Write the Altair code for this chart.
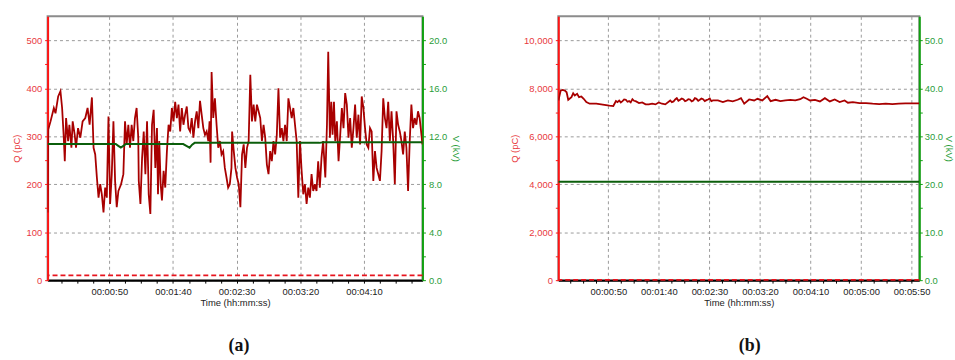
import altair as alt
import pandas as pd

# ---------------- panel (a): ~5 min record ----------------
A_Q_T = [
    1.5, 2.0, 3.8, 6.4, 7.7, 9.8, 11.6, 12.9, 14.2, 15.0, 16.0, 17.6, 18.6, 20.2, 21.2, 22.8, 23.8,
    25.4, 27.2, 29.0, 31.1, 32.9, 34.5, 36.3, 37.6, 38.9, 40.2, 41.5, 42.8, 44.1, 45.4, 46.7, 48.0,
    49.3, 50.6, 51.9, 53.2, 54.5, 55.8, 57.1, 59.2, 61.0, 62.3, 63.6, 64.9, 66.2, 67.5, 68.8, 70.1,
    71.4, 72.7,
    73.1, 74.4, 75.7, 77.0, 78.3, 79.6, 80.9, 82.2, 83.5, 84.8, 86.1, 87.4, 88.2, 89.2, 90.3, 91.3,
    92.6, 93.9, 95.2, 96.5, 97.8, 99.1, 100.4, 101.7, 103.0, 104.3, 105.6, 106.9, 108.2, 109.5,
    110.8, 112.1, 113.4, 114.7, 116.0, 117.3, 118.6, 119.9, 121.2, 122.5, 123.8, 125.1, 126.4,
    127.7, 128.7, 129.5, 130.3, 131.6, 132.9, 134.2, 135.5, 136.8, 138.1, 139.4, 140.7, 142.0,
    143.3, 144.6, 145.9,
    146.4, 147.7, 149.0, 150.3, 151.6, 152.9, 154.2, 155.5, 156.8, 158.1, 159.4, 160.7, 162.0,
    163.3, 164.6, 165.9, 167.2, 168.5, 169.8, 171.1, 172.4, 173.7, 175.0, 176.3, 177.6, 178.9,
    180.2, 181.5, 182.8, 184.1, 185.4, 186.7, 188.0, 189.3, 190.6, 191.9, 193.2, 194.5, 195.8,
    197.1, 198.4, 199.7, 201.0, 202.3, 203.6, 204.9, 206.2, 207.5, 208.8, 210.1, 211.4, 212.7,
    214.0, 215.3, 216.6, 217.9,
    219.6, 220.9, 221.9, 223.2, 224.3, 225.3, 226.4, 227.4, 228.7, 230.0, 231.3, 232.6, 233.9,
    235.2, 236.5, 237.8, 239.1, 240.4, 241.7, 243.0, 244.3, 245.6, 246.9, 248.2, 249.5, 250.8,
    252.1, 253.4, 254.7, 256.0, 257.3, 258.6, 259.9, 261.2, 262.5, 263.8, 265.1, 266.4, 267.7,
    269.0, 270.3, 271.6, 272.9, 274.2, 275.5, 276.8, 278.1, 279.4, 280.7, 282.0, 283.3, 284.6,
    285.9, 287.2, 288.5, 289.8, 291.1, 292.4, 293.7, 295.9,
]
A_Q = [
    141, 314, 331, 359, 348, 383, 394, 359, 297, 248, 338, 290, 324, 276, 331, 303, 276,
    317, 297, 331, 338, 359, 324, 381, 276, 262, 214, 172, 200, 179, 141, 193, 172,
    341, 159, 221, 331, 207, 152, 186, 200, 221, 331, 283, 324, 276, 324, 290, 338,
    359, 297,
    207, 159, 255, 310, 221, 331, 179, 138, 324, 355, 234, 317, 179, 290, 200, 166,
    228, 193, 269, 324, 310, 359, 331, 372, 338, 366, 310, 359, 324, 345,
    362, 317, 310, 338, 297, 331, 352, 317, 374, 345, 317, 303, 310,
    290, 331, 245, 434, 338, 379, 324, 276, 290, 262, 269, 234, 214,
    193, 200, 234,
    310, 269, 234, 214, 200, 152, 262, 283, 234, 276, 290, 428, 331,
    366, 331, 366, 352, 338, 290, 324, 297, 241, 221, 269, 248, 290,
    262, 303, 400, 297, 317, 290, 324, 290, 379, 359, 338, 359, 324,
    290, 172, 290, 228, 179, 200, 159, 193, 172, 221, 186, 200, 186,
    248, 193, 255, 290,
    214, 324, 476, 297, 372, 303, 372, 290, 331, 248, 303, 359, 317,
    390, 366, 297, 338, 276, 317, 366, 297, 345, 283, 383, 359, 317,
    283, 276, 317, 310, 207, 269, 234, 221, 207, 269, 379, 338, 317,
    372, 290, 352, 290, 200, 352, 324, 310, 290, 262, 310, 276, 186,
    290, 366, 317, 338, 324, 352, 338, 283,
]
A_V_T = [1.5, 55.0, 57.0, 59.0, 61.0, 63.0, 108.0, 110.5, 113.0, 115.0, 117.0, 215.0, 218.0, 295.9]
A_V = [11.35, 11.35, 11.2, 11.05, 11.2, 11.35, 11.35, 11.2, 11.05, 11.3, 11.45, 11.45, 11.5, 11.5]

# ---------------- panel (b): ~6 min record ----------------
B_Q_T = [
    0.6, 2.8, 4.8, 7.0, 8.7, 10.3, 13.5, 15.2, 16.8, 19.1, 21.0, 23.3, 25.6, 28.2, 31.5,
    38.0, 44.5, 51.0, 54.9, 57.5, 59.1, 60.7, 62.3, 64.0, 65.6, 67.3, 68.9, 70.5, 72.1, 73.8,
    75.4, 77.0, 80.3, 83.5, 86.8, 90.0,
    93.3, 96.6, 99.8, 103.1, 106.3, 111.2, 112.8, 114.5, 116.1, 117.7, 119.3, 121.0, 122.6,
    124.2, 125.9, 127.5, 129.1, 130.7, 132.4, 134.0, 135.6, 137.2, 138.9, 140.5, 142.1, 143.7,
    145.4, 147.0, 148.6, 150.3, 151.9, 153.5,
    158.4, 163.3, 168.2, 173.0, 177.9, 181.2, 184.4, 189.3, 194.2, 197.5, 202.3, 207.2, 210.5,
    215.4, 220.2, 225.1, 230.0, 234.9, 239.8, 243.0, 246.3, 249.5, 254.4, 259.3, 264.2, 269.1,
    273.9, 278.8, 283.7, 287.0, 291.9, 298.4, 304.9, 311.4, 317.9, 324.4, 330.9, 337.4, 343.9,
    350.4, 357.6,
]
B_Q = [
    7493, 7904, 7932, 7904, 7836, 7521, 7630, 7795, 7700, 7767, 7630, 7658, 7562, 7425, 7357,
    7357, 7316, 7275, 7261, 7466, 7425, 7493, 7411, 7466, 7534, 7521, 7439, 7466, 7411, 7548,
    7480, 7466, 7384, 7411, 7329, 7329,
    7357, 7329, 7411, 7357, 7329, 7493, 7425, 7452, 7534, 7589, 7480, 7521, 7575,
    7548, 7466, 7493, 7548, 7534, 7452, 7493, 7589, 7562, 7480, 7521, 7575, 7548,
    7466, 7507, 7534, 7575, 7466, 7493,
    7493, 7425, 7493, 7452, 7521, 7589, 7357, 7534, 7493, 7562, 7493, 7671, 7466,
    7521, 7466, 7493, 7521, 7493, 7548, 7630, 7562, 7493, 7521, 7452, 7589, 7452,
    7534, 7425, 7493, 7398, 7425, 7384, 7384, 7357, 7343, 7357, 7343, 7357, 7370,
    7370, 7370,
]
B_V_T = [0.5, 357.6]
B_V = [20.5, 20.5]

THRESHOLD_Q = 10  # pC, dashed level line

RED_LINE = "#a80000"
GREEN_LINE = "#0b5e0b"
AXIS_RED = "#ff1414"
LABEL_RED = "#e8383d"
AXIS_GREEN = "#10a010"
LABEL_GREEN = "#2a9d3a"
GRID = "#9a9a9a"
FONT = "Liberation Sans"
FS = 9.5


def time_axis(end):
    minor = [12.5 * i for i in range(1, int(end / 12.5) + 1)]
    return alt.Axis(
        values=minor,
        labelExpr="datum.value % 50 === 0 ? utcFormat(datum.value * 1000, '%H:%M:%S') : ''",
        grid=True,
        gridOpacity={"condition": {"test": "datum.value % 50 === 0", "value": 1}, "value": 0},
        gridDash=[3, 3], gridColor=GRID, gridWidth=1,
        domainColor="#000000", domainWidth=2,
        tickColor="#000000", tickSize=3, tickWidth=1,
        labelFont=FONT, labelFontSize=FS, labelColor="#222222", labelPadding=3,
        labelFlush=False, labelOverlap=False,
        title="Time (hh:mm:ss)", titleFont=FONT, titleFontSize=FS,
        titleFontWeight="normal", titleColor="#222222", titlePadding=2,
    )


def q_axis(step, major, top, fmt):
    vals = [step * i for i in range(0, int(top / step) + 1)]
    return alt.Axis(
        values=vals,
        labelExpr=f"datum.value % {major} === 0 ? format(datum.value, '{fmt}') : ''",
        grid=True,
        gridOpacity={"condition": {"test": f"datum.value % {major} === 0", "value": 1}, "value": 0},
        gridDash=[3, 3], gridColor=GRID, gridWidth=1,
        domainColor=AXIS_RED, domainWidth=2,
        tickColor=AXIS_RED, tickSize=3,
        labelFont=FONT, labelFontSize=FS, labelColor=LABEL_RED, labelPadding=3,
        labelFlush=False, labelOverlap=False,
        title="Q (pC)", titleFont=FONT, titleFontSize=FS, titleFontWeight="normal",
        titleColor=LABEL_RED, titlePadding=4,
    )


def v_axis(step, major, top, label_pad, title_pad):
    vals = [step * i for i in range(0, int(top / step) + 1)]
    return alt.Axis(
        orient="right",
        values=vals,
        labelExpr=f"datum.value % {major} === 0 ? format(datum.value, '.1f') : ''",
        grid=False,
        domainColor=AXIS_GREEN, domainWidth=2,
        tickColor=AXIS_GREEN, tickSize=3,
        labelFont=FONT, labelFontSize=FS, labelColor=LABEL_GREEN, labelPadding=label_pad,
        labelFlush=False, labelOverlap=False,
        title="V (kV)", titleFont=FONT, titleFontSize=FS, titleFontWeight="normal",
        titleColor=LABEL_GREEN, titlePadding=title_pad,
    )


def panel(qt, q, vt, v, xdom, qdom, qstep, qmajor, qfmt, vdom, vstep, vmajor,
          tag, width, tag_dx, vlab_pad, vtitle_pad):
    dq = pd.DataFrame({"t": qt, "Q": q})
    dv = pd.DataFrame({"t": vt, "V": v})
    dth = pd.DataFrame({"Q": [THRESHOLD_Q]})

    xaxis = time_axis(xdom[1])
    xenc = alt.X("t:Q", scale=alt.Scale(domain=xdom, nice=False, zero=False), axis=xaxis)
    qscale = alt.Scale(domain=qdom, nice=False, zero=True)
    qax = q_axis(qstep, qmajor, qdom[1] - qstep / 2, qfmt)

    level = alt.Chart(dth).mark_rule(
        color="#e8141e", strokeDash=[5, 3], strokeWidth=1.6
    ).encode(y=alt.Y("Q:Q", scale=qscale, axis=qax))
    qline = alt.Chart(dq).mark_line(
        color=RED_LINE, strokeWidth=1.8, clip=True
    ).encode(x=xenc, y=alt.Y("Q:Q", scale=qscale, axis=qax))
    vline = alt.Chart(dv).mark_line(
        color=GREEN_LINE, strokeWidth=2, clip=True
    ).encode(
        x=xenc,
        y=alt.Y("V:Q", scale=alt.Scale(domain=vdom, nice=False, zero=True),
                axis=v_axis(vstep, vmajor, vdom[1] - vstep / 2, vlab_pad, vtitle_pad)),
    )

    return (
        alt.layer(alt.layer(level, qline), vline)
        .resolve_scale(y="independent")
        .properties(
            width=width, height=266,
            title=alt.TitleParams(
                "(" + tag + ")", orient="bottom", font="Liberation Serif", fontSize=18,
                fontWeight="bold", color="#111111", offset=30, dx=tag_dx,
            ),
        )
    )


pa = panel(A_Q_T, A_Q, A_V_T, A_V, [1.5, 295.9], [0, 550], 50, 100, "d",
           [0, 22], 2, 4, "a", 378, 4, 3, 4)
pb = panel(B_Q_T, B_Q, B_V_T, B_V, [0.5, 357.6], [0, 11000], 1000, 2000, ",",
           [0, 55], 5, 10, "b", 364, 11, 2, 1)

chart = (
    alt.hconcat(pa, pb, spacing=46)
    .properties(padding={"left": 11, "top": 14, "right": 0, "bottom": 0}, background="white")
    .configure_view(stroke="#8c8c8c", strokeWidth=2)
)

chart.save("out.html", embed_options={"renderer": "svg", "actions": False})
